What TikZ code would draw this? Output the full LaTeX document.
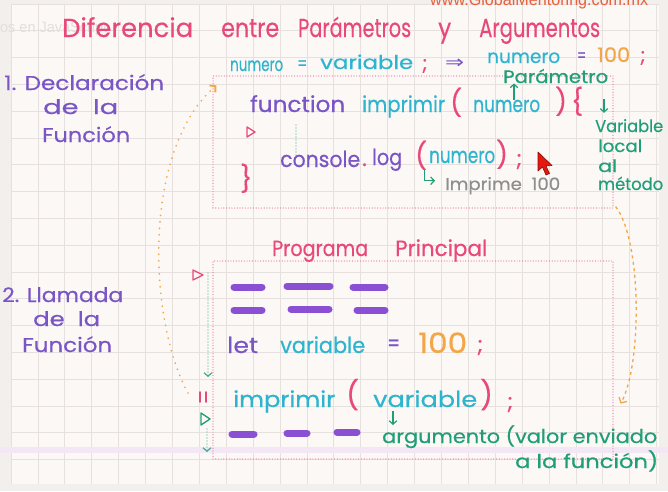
\documentclass[tikz,border=0pt]{standalone}
\usepackage{graphicx}
\usepackage{fontspec}
\setmainfont{Poppins}[FakeBold=0.4]
\newfontfamily\urlfont{Liberation Sans}
\newfontfamily\symfont{DejaVu Sans}
\usetikzlibrary{arrows.meta,positioning}
\definecolor{paper}{HTML}{FBF8F6}
\definecolor{rim}{HTML}{F2EFED}
\definecolor{gridc}{HTML}{E6E1DE}
\definecolor{band}{HTML}{F3E6F5}
\definecolor{gmpink}{HTML}{E8497A}
\definecolor{gmpurple}{HTML}{7A55C6}
\definecolor{gmbar}{HTML}{8B4FD4}
\definecolor{gmcyan}{HTML}{2DB4CE}
\definecolor{gmgreen}{HTML}{1F9E78}
\definecolor{gmorange}{HTML}{F4A546}
\definecolor{gmgray}{HTML}{8E8E8E}
\definecolor{gmurl}{HTML}{E8603C}
\definecolor{gmcursor}{HTML}{E5170E}
\newcommand{\hand}[1]{\fontsize{#1}{#1}\selectfont}
\newcommand{\hw}[2]{\resizebox{#1pt}{\height}{#2}}

\begin{document}
\begin{tikzpicture}[x=1pt,y=-1pt,>={Straight Barb[length=4pt,width=9pt]},line join=round,
  word/.style={anchor=base west,inner sep=0pt},
  ttl/.style={word,gmpink,font=\hand{26}},
  lbl/.style={word,gmpurple,font=\hand{20}},
  cde/.style={word,font=\hand{22}},
  brk/.style={word,gmpink,font=\hand{26}},
  nte/.style={word,gmgreen,font=\hand{17}},
  bar/.style={gmbar,line width=7pt,line cap=round},
  tri/.style={line width=1.3pt,line join=round},
  pinkbox/.style={draw=gmpink!80,line width=1.2pt,line cap=round,dash pattern=on 0pt off 2.7pt,minimum width=400pt,inner sep=0pt},
  gdots/.style={gmgreen!85,line width=1.4pt,line cap=round,dash pattern=on 0pt off 3pt},
  gtip/.style={-{Straight Barb[length=3.5pt,width=8pt,line width=1.2pt]}},
  garrow/.style={gmgreen,line width=1.2pt,-{Straight Barb[length=3.5pt,width=7.5pt]}},
  odots/.style={gmorange,line width=1.9pt,line cap=round,dash pattern=on 0pt off 6.5pt},
  odash/.style={gmorange,line width=1.3pt,dash pattern=on 3pt off 3.5pt},
]
  \useasboundingbox (0,0) rectangle (668,491);
  % paper and grid
  \fill[rim] (0,0) rectangle (668,491);
  \fill[paper] (11,4) rectangle (659,484);
  \begin{scope}
    \clip (11,4) rectangle (659,484);
    \foreach \i in {0,...,24}
      \draw[gridc,line width=0.7pt] ({11+26.9*\i},4) -- ({11+26.9*\i},484);
    \foreach \j in {0,...,18}
      \draw[gridc,line width=0.7pt] (11,{4+26.8*\j}) -- (659,{4+26.8*\j});
  \end{scope}
  \fill[band] (0,447) rectangle (668,453);
  \node[word,black!12,font=\urlfont\hand{15}] (ovl) at (0,32) {\hw{107}{os en JavaScript}};
  \node[word,gmurl,font=\urlfont\hand{17}] (url) at (430,5) {\hw{218}{www.GlobalMentoring.com.mx}};

  % title
  \node[ttl] (t1) at (62,37) {\hw{131}{Diferencia}};
  \node[ttl] (t2) at (221,37) {\hw{58}{entre}};
  \node[ttl] (t3) at (298,37) {\hw{113}{Parámetros}};
  \node[ttl] (t4) at (438,37) {\hw{13}{y}};
  \node[ttl] (t5) at (479,37) {\hw{121}{Argumentos}};

  % left labels
  \node[lbl] (l1) at (4,90) {\hw{160}{1. Declaración}};
  \node[lbl] (l2) at (43,114) {\hw{75}{de\ \ la}};
  \node[lbl] (l3) at (42,142) {\hw{88}{Función}};
  \node[lbl] (l4) at (2,302) {\hw{121}{2. Llamada}};
  \node[lbl] (l5) at (33,326) {\hw{67}{de\ \ la}};
  \node[lbl] (l6) at (22,352) {\hw{90}{Función}};

  % numero = variable ; => numero = 100 ;
  \node[cde,gmcyan,font=\hand{19}] (a1) at (230,71) {\hw{53}{numero}};
  \node[cde,gmcyan,font=\hand{19}] (a2) at (297,70) {\hw{10}{=}};
  \node[cde,gmcyan,font=\hand{19}] (a3) at (320,69) {\hw{93}{variable}};
  \node[cde,gmpink,font=\hand{20}] (a4) at (422,70) {;};
  \node[cde,gmpurple,font=\symfont\hand{18}] (a5) at (445,68) {\hw{19}{⇒}};
  \node[cde,gmcyan,font=\hand{19}] (a6) at (487,63) {\hw{73}{numero}};
  \node[cde,gmpurple,font=\hand{19}] (a7) at (577,62) {\hw{9}{=}};
  \node[cde,gmorange,font=\hand{20}] (a8) at (597,62) {\hw{33}{100}};
  \node[cde,gmpink,font=\hand{20}] (a9) at (640,62) {;};

  % function declaration
  \node[pinkbox,minimum height=132pt] (decl) at (413,142) {};
  \node[cde,gmpurple] (b1) at (250,112) {\hw{95}{function}};
  \node[cde,gmcyan] (b2) at (362,112) {\hw{83}{imprimir}};
  \node[brk] (b3) at (450,112) {(};
  \node[cde,gmcyan] (b4) at (473,112) {\hw{67}{numero}};
  \node[brk] (b5) at (555,111) {)};
  \node[brk] (b6) at (571,111) {\{};
  \node[nte,font=\hand{18}] (p1) at (503,83) {\hw{105}{Parámetro}};
  \node[nte] (v1) at (595,132) {\hw{68}{Variable}};
  \node[nte] (v2) at (598,152) {\hw{44}{local}};
  \node[nte] (v3) at (598,172) {\hw{19}{al}};
  \node[nte] (v4) at (598,190) {\hw{65}{método}};
  \draw[garrow] ([xshift=41pt]b4.north west) -- ([xshift=11pt]p1.south west);
  \coordinate (ptail) at (604,99);
  \draw[garrow] (ptail) -- ([shift={(9,-6)}]v1.north west);
  \draw[gmpink,tri] (247,127) -- (255,132) -- (247,137) -- cycle;
  \draw[gdots] (296,125) -- (296,157);
  \node[brk] (b7) at (240,188) {\}};
  \node[cde,gmpurple] (c1) at (280,167) {\hw{80}{console}};
  \node[cde,gmpink] (c2) at (362,166) {.};
  \node[cde,gmpurple] (c3) at (372,165) {\hw{30}{log}};
  \node[brk] (c4) at (415,165) {(};
  \node[cde,gmcyan] (c5) at (429,163) {\hw{66}{numero}};
  \node[brk] (c6) at (496,164) {)};
  \node[cde,gmpink] (c7) at (516,166) {;};
  \node[word,gmgray,font=\hand{17}] (i1) at (445,190) {\hw{115}{Imprime\ \ 100}};
  \draw[garrow] ([xshift=3pt]c4.south) |- ([xshift=-10pt,yshift=5pt]i1.west);
  \fill[gmcursor,draw=gmcursor!60!black,line width=0.6pt] (538,152) -- (538,171) -- (542.5,167)
    -- (546,175) -- (549.5,173.5) -- (546,166) -- (552,165.5) -- cycle;

  % main program
  \node[pinkbox,minimum height=198pt] (prog) at (413,360) {};
  \node[ttl,font=\hand{22}] (pp1) at (272,256) {\hw{96}{Programa}};
  \node[ttl,font=\hand{22}] (pp2) at (395,256) {\hw{92}{Principal}};
  \foreach \xa/\xb/\yy in {234/262/287, 287/330/286, 353/385/287, 234/262/310, 291/329/309, 357/385/310, 232/254/434, 287/307/433, 337/357/432}
    \draw[bar] (\xa,\yy) -- (\xb,\yy);
  \node[cde,gmpurple] (d1) at (227,353) {\hw{31}{let}};
  \node[cde,gmcyan] (d2) at (280,353) {\hw{85}{variable}};
  \node[cde,gmpurple] (d3) at (387,351) {\hw{13}{=}};
  \node[cde,gmorange,font=\hand{28}] (d4) at (418,353) {\hw{49}{100}};
  \node[cde,gmpink] (d5) at (477,352) {;};
  \node[cde,gmcyan] (e1) at (233,407) {\hw{102}{imprimir}};
  \node[brk,font=\hand{28}] (e2) at (346,405) {(};
  \node[cde,gmcyan] (e3) at (373,407) {\hw{104}{variable}};
  \node[brk,font=\hand{28}] (e4) at (480,405) {)};
  \node[cde,gmpink] (e5) at (507,409) {;};
  \node[nte,font=\hand{19}] (f1) at (382,443) {\hw{275}{argumento (valor enviado}};
  \node[nte,font=\hand{19}] (f2) at (515,468) {\hw{143}{a la función)}};
  \draw[garrow] ([shift={(20,4)}]e3.south west) -- ([xshift=11pt]f1.north west);

  % marks left of the program
  \draw[gmpink,tri] (193,270) -- (203,275) -- (193,280) -- cycle;
  \draw[gdots,gtip] (208,273) -- (208,377);
  \draw[gmpink,line width=1.6pt,line cap=round] (200,392) -- (200,402) (206,392) -- (206,402);
  \draw[gmgreen,tri] (201,413) -- (210,419) -- (201,425) -- cycle;
  \draw[gdots,gtip] (207,429) -- (207,452);

  % call <-> declaration
  \coordinate (ocall) at (188,393);
  \draw[odots,->] (ocall) .. controls (148,320) and (142,150) .. ([shift={(4,10)}]decl.north west);
  \draw[odash,->] ([shift={(2,-2)}]decl.south east) .. controls (642,240) and (642,365) .. ([shift={(7,-56)}]prog.south east);
\end{tikzpicture}
\end{document}
